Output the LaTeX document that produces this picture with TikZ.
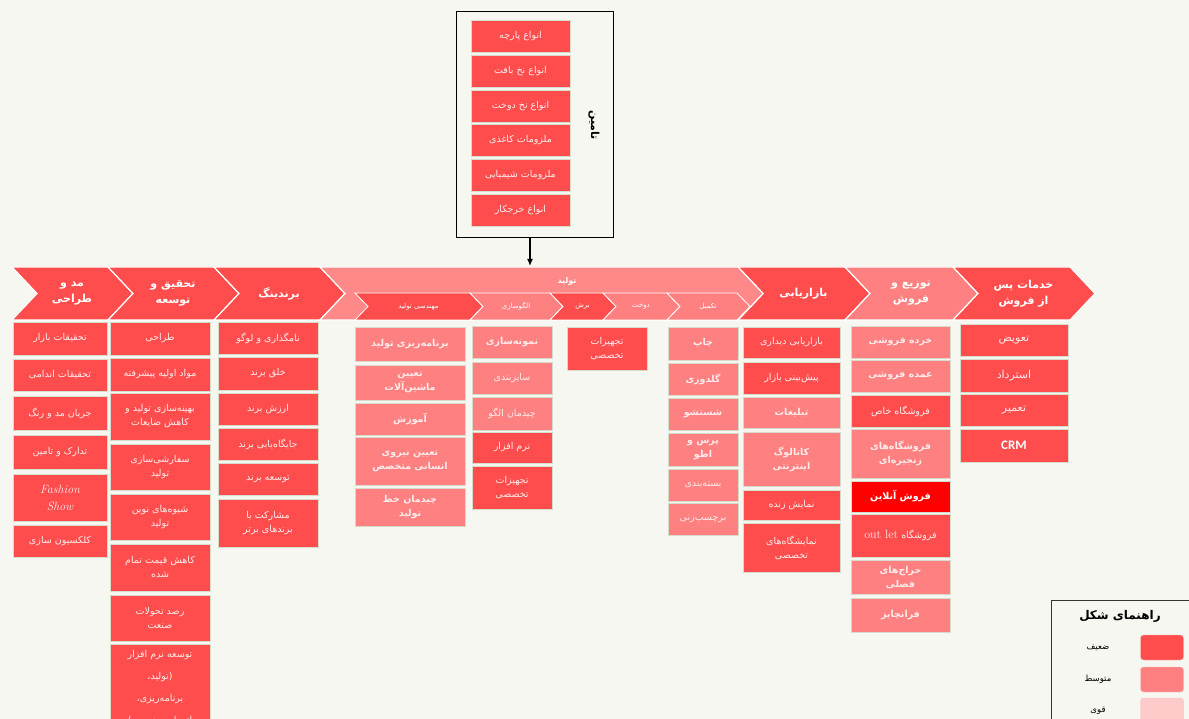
\documentclass[tikz,border=0pt]{standalone}
\usepackage{fontspec}
\usetikzlibrary{arrows.meta}
\newfontfamily\arabicfont[Script=Arabic]{DejaVu Sans}
\newfontfamily\latinsans{Carlito}
\TeXXeTstate=1
\newcommand{\fatxt}[1]{{\arabicfont\beginR #1\endR}}
\definecolor{bgpaper}{RGB}{245,247,240}
\definecolor{weakred}{RGB}{255,77,77}
\definecolor{medred}{RGB}{255,128,128}
\definecolor{strongred}{RGB}{255,202,202}
\definecolor{onlinered}{RGB}{255,0,0}
\definecolor{prodred}{RGB}{255,136,136}
\definecolor{cellline}{RGB}{214,219,204}

\begin{document}
\begin{tikzpicture}[x=1pt, y=-1pt,
    cell/.style={draw=cellline, line width=0.8pt, inner sep=1pt, align=center,
                 text=white!92!red, font=\fontsize{9.5}{14}\selectfont},
    weak/.style={cell, fill=weakred},
    weakit/.style={weak, font=\fontsize{12}{17}\selectfont\itshape},
    weaktall/.style={weak, font=\fontsize{9.5}{22}\selectfont},
    weakbig/.style={weak, font=\fontsize{11}{14}\selectfont},
    weakcrm/.style={weak, text=white, font=\latinsans\fontsize{13}{15}\selectfont\bfseries},
    med/.style={cell, fill=medred},
    medb/.style={med, font=\fontsize{9.5}{14}\selectfont\bfseries},
    online/.style={cell, fill=onlinered, text=white, font=\fontsize{9.5}{14}\selectfont\bfseries},
    chev/.style={draw=white, line width=1.2pt},
    head/.style={text=white, align=center, font=\fontsize{11}{16}\selectfont\bfseries},
    subhead/.style={text=white, font=\fontsize{7}{8}\selectfont},
    arr/.style={-{Latex[length=7pt, width=6pt]}, line width=1.3pt, black},
  ]
    \useasboundingbox (0,0) rectangle (1189,719);
    \clip (0,0) rectangle (1189,719);
    \fill[bgpaper] (0,0) rectangle (1189,719);

    % supply box on top
    \node[draw=black, line width=1pt, minimum width=157, minimum height=226] (tamin) at (534.5,125) {};
    \foreach \y/\lbl [count=\i] in {36/{انواع پارچه}, 71/{انواع نخ بافت}, 106/{انواع نخ دوخت},
                                   140/{ملزومات کاغذی}, 175/{ملزومات شیمیایی}, 210/{انواع خرجکار}}
      \node[weak, minimum width=99, minimum height=32] (tm\i) at (520.5,\y) {\fatxt{\lbl}};
    \node[rotate=-90, font=\fontsize{11}{13}\selectfont\bfseries] (taminlbl) at (594,125) {\fatxt{تامین}};
    \coordinate (prodtop) at (530,266);
    \draw[arr] (tamin.south -| prodtop) -- (prodtop);

    % chevron row
    \foreach \xl/\xr/\c/\n/\lbl in {
        12/108/weakred/mod/{\fatxt{مد و}\\\fatxt{طراحی}},
        108/214/weakred/rnd/{\fatxt{تحقیق و}\\\fatxt{توسعه}},
        214/320/weakred/brand/{\fatxt{برندینگ}},
        738/845/weakred/mkt/{\fatxt{بازاریابی}},
        845/953/medred/dist/{\fatxt{توزیع و}\\\fatxt{فروش}},
        953/1070/weakred/after/{\fatxt{خدمات پس}\\\fatxt{از فروش}}}{
      \filldraw[chev, fill=\c] (\xl,267) -- (\xr,267) -- (\xr+25,293.5) -- (\xr,320)
                               -- (\xl,320) -- (\xl+25,293.5) -- cycle;
      \node[head] (\n) at ({(\xl+\xr)/2+12},293.5) {\lbl};
    }
    \filldraw[chev, fill=prodred] (320,267) -- (738,267) -- (763,293.5) -- (738,320)
                                  -- (320,320) -- (345,293.5) -- cycle;
    \node[subhead, font=\fontsize{8}{9}\selectfont\bfseries] (prod) at (567,281) {\fatxt{تولید}};
    \foreach \xl/\xr/\c/\n/\lbl in {355/470/weakred/eng/{مهندسی تولید}, 470/550/medred/pattern/{الگوسازی},
                                   550/603/weakred/cut/{برش}, 603/667/medred/sew/{دوخت},
                                   667/737/medred/finish/{تکمیل}}{
      \filldraw[chev, line width=0.8pt, fill=\c] (\xl,293) -- (\xr,293) -- (\xr+13,306.5) -- (\xr,320)
                                                 -- (\xl,320) -- (\xl+13,306.5) -- cycle;
      \node[subhead] (\n) at ({(\xl+\xr)/2+6},306.5) {\fatxt{\lbl}};
    }

    % columns
    \foreach \ya/\yb/\sty/\lbl [count=\i] in {
        322/355/weak/{\fatxt{تحقیقات بازار}},
        359/391/weak/{\fatxt{تحقیقات اندامی}},
        396/430/weak/{\fatxt{جریان مد و رنگ}},
        435/469/weak/{\fatxt{تدارک و تامین}},
        474/521/weakit/{Fashion\\Show},
        525/557/weak/{\fatxt{کلکسیون سازی}}}
      \node[\sty, minimum width=94, minimum height={\yb-\ya}] (mod\i) at (60,{(\ya+\yb)/2}) {\lbl};

    \foreach \ya/\yb/\sty/\lbl [count=\i] in {
        322/355/weak/{\fatxt{طراحی}},
        358/391/weak/{\fatxt{مواد اولیه پیشرفته}},
        393/440/weak/{\fatxt{بهینه‌سازی تولید و}\\\fatxt{کاهش ضایعات}},
        444/490/weak/{\fatxt{سفارشی‌سازی}\\\fatxt{تولید}},
        494/540/weak/{\fatxt{شیوه‌های نوین}\\\fatxt{تولید}},
        544/591/weak/{\fatxt{کاهش قیمت تمام}\\\fatxt{شده}},
        595/641/weak/{\fatxt{رصد تحولات}\\\fatxt{صنعت}},
        644/732/weaktall/{\fatxt{توسعه نرم افزار}\\\fatxt{(تولید،}\\\fatxt{برنامه‌ریزی،}\\\fatxt{اتوماسیون و ...)}}}
      \node[\sty, minimum width=100, minimum height={\yb-\ya}] (rnd\i) at (160,{(\ya+\yb)/2}) {\lbl};

    \foreach \ya/\yb/\sty/\lbl [count=\i] in {
        322/354/weak/{\fatxt{نامگذاری و لوگو}},
        357/390/weak/{\fatxt{خلق برند}},
        393/425/weak/{\fatxt{ارزش برند}},
        428/460/weak/{\fatxt{جایگاه‌یابی برند}},
        463/495/weak/{\fatxt{توسعه برند}},
        499/547/weak/{\fatxt{مشارکت با}\\\fatxt{برندهای برتر}}}
      \node[\sty, minimum width=100, minimum height={\yb-\ya}] (brand\i) at (268,{(\ya+\yb)/2}) {\lbl};

    \foreach \ya/\yb/\sty/\lbl [count=\i] in {
        327/361/medb/{\fatxt{برنامه‌ریزی تولید}},
        365/400/medb/{\fatxt{تعیین}\\\fatxt{ماشین‌آلات}},
        403/435/medb/{\fatxt{آموزش}},
        437/485/medb/{\fatxt{تعیین نیروی}\\\fatxt{انسانی متخصص}},
        488/526/medb/{\fatxt{چیدمان خط}\\\fatxt{تولید}}}
      \node[\sty, minimum width=110, minimum height={\yb-\ya}] (eng\i) at (410,{(\ya+\yb)/2}) {\lbl};

    \foreach \ya/\yb/\sty/\lbl [count=\i] in {
        326/358/medb/{\fatxt{نمونه‌سازی}},
        362/394/med/{\fatxt{سایزبندی}},
        397/430/med/{\fatxt{چیدمان الگو}},
        432/463/weak/{\fatxt{نرم افزار}},
        466/509/weak/{\fatxt{تجهیزات}\\\fatxt{تخصصی}}}
      \node[\sty, minimum width=80, minimum height={\yb-\ya}] (pattern\i) at (512,{(\ya+\yb)/2}) {\lbl};

    \node[weak, minimum width=80, minimum height=43] (cut1) at (607,348.5) {\fatxt{تجهیزات}\\\fatxt{تخصصی}};

    \foreach \ya/\yb/\sty/\lbl [count=\i] in {
        327/360/medb/{\fatxt{چاپ}},
        363/395/medb/{\fatxt{گلدوزی}},
        398/430/medb/{\fatxt{شستشو}},
        433/466/medb/{\fatxt{پرس و}\\\fatxt{اطو}},
        469/501/med/{\fatxt{بسته‌بندی}},
        503/535/med/{\fatxt{برچسب‌زنی}}}
      \node[\sty, minimum width=70, minimum height={\yb-\ya}] (finish\i) at (703,{(\ya+\yb)/2}) {\lbl};

    \foreach \ya/\yb/\sty/\lbl [count=\i] in {
        327/358/weak/{\fatxt{بازاریابی دیداری}},
        362/394/weak/{\fatxt{پیش‌بینی بازار}},
        397/428/medb/{\fatxt{تبلیغات}},
        432/486/medb/{\fatxt{کاتالوگ}\\\fatxt{اینترنتی}},
        490/520/weak/{\fatxt{نمایش زنده}},
        523/572/weak/{\fatxt{نمایشگاه‌های}\\\fatxt{تخصصی}}}
      \node[\sty, minimum width=97, minimum height={\yb-\ya}] (mkt\i) at (791.5,{(\ya+\yb)/2}) {\lbl};

    \foreach \ya/\yb/\sty/\lbl [count=\i] in {
        326/358/medb/{\fatxt{خرده فروشی}},
        360/392/medb/{\fatxt{عمده فروشی}},
        395/427/weak/{\fatxt{فروشگاه خاص}},
        429/478/medb/{\fatxt{فروشگاه‌های}\\\fatxt{زنجیره‌ای}},
        481/512/online/{\fatxt{فروش آنلاین}},
        514/557/weak/{\fatxt{فروشگاه \beginL\rmfamily\fontsize{12}{14}\selectfont out let\endL}},
        560/594/medb/{\fatxt{حراج‌های}\\\fatxt{فصلی}},
        598/632/medb/{\fatxt{فرانچایز}}}
      \node[\sty, minimum width=99, minimum height={\yb-\ya}] (dist\i) at (900.5,{(\ya+\yb)/2}) {\lbl};

    \foreach \ya/\yb/\sty/\lbl [count=\i] in {
        324/356/weakbig/{\fatxt{تعویض}},
        359/392/weakbig/{\fatxt{استرداد}},
        394/426/weakbig/{\fatxt{تعمیر}},
        429/462/weakcrm/{CRM}}
      \node[\sty, minimum width=108, minimum height={\yb-\ya}] (after\i) at (1014,{(\ya+\yb)/2}) {\lbl};

    % legend
    \node[draw=black!80, line width=1pt, minimum width=150, minimum height=130, anchor=north west] (legend) at (1051,600) {};
    \node[font=\fontsize{12}{14}\selectfont\bfseries] (legtitle) at (1120,616) {\fatxt{راهنمای شکل}};
    \foreach \y/\c/\lbl [count=\i] in {647.5/weakred/{ضعیف}, 679.5/medred/{متوسط}, 710.5/strongred/{قوی}}{
      \node[fill=\c, draw=white!75!red, rounded corners=3pt, minimum width=43, minimum height=25] (sw\i) at (1162,\y) {};
      \node[font=\fontsize{8.5}{10}\selectfont] (lg\i) at (1098,\y) {\fatxt{\lbl}};
    }
\end{tikzpicture}
\end{document}
